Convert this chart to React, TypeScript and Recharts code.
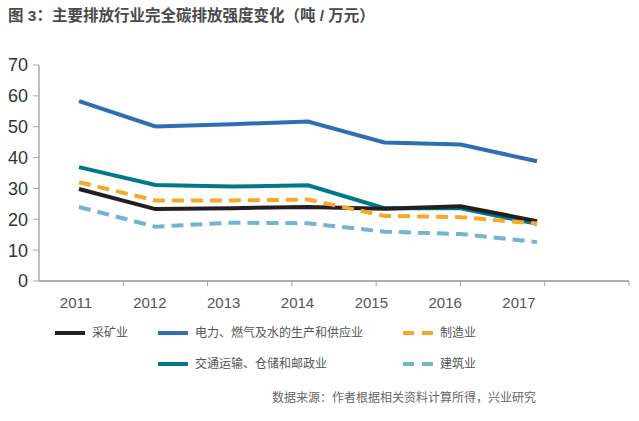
import React from 'react';
import { LineChart, Line, XAxis, YAxis, ReferenceLine } from 'recharts';

const YEARS = ['2011', '2012', '2013', '2014', '2015', '2016', '2017'];
const MINING = [29.8, 23.3, 23.6, 24.0, 23.4, 24.2, 19.4];
const POWER = [58.3, 50.1, 50.8, 51.7, 44.9, 44.2, 38.8];
const MANUFACTURING = [32.0, 26.1, 26.1, 26.4, 21.1, 20.7, 18.6];
const TRANSPORT = [36.9, 31.1, 30.6, 31.0, 23.6, 23.6, 18.5];
const CONSTRUCTION = [24.0, 17.6, 18.9, 18.7, 16.0, 15.2, 12.6];
const Y_TICKS = [0, 10, 20, 30, 40, 50, 60, 70];

const TITLE = '图 3：主要排放行业完全碳排放强度变化（吨 / 万元）';
const SOURCE = '数据来源：作者根据相关资料计算所得，兴业研究';

const SERIES = [
  { key: 'construction', name: '建筑业', values: CONSTRUCTION, color: '#74b4d0', dashed: true },
  { key: 'transport', name: '交通运输、仓储和邮政业', values: TRANSPORT, color: '#00788a', dashed: false },
  { key: 'mining', name: '采矿业', values: MINING, color: '#231f20', dashed: false },
  { key: 'manufacturing', name: '制造业', values: MANUFACTURING, color: '#f6a72c', dashed: true },
  { key: 'power', name: '电力、燃气及水的生产和供应业', values: POWER, color: '#2f6db5', dashed: false },
];

const LEGEND_LAYOUT: Record<string, { x: number; y: number }> = {
  mining: { x: 55, y: 333 },
  power: { x: 158, y: 333 },
  manufacturing: { x: 403, y: 333 },
  transport: { x: 158, y: 364 },
  construction: { x: 403, y: 364 },
};

const data = YEARS.map((year, i) => {
  const row: Record<string, number | string> = { i, year };
  SERIES.forEach((s) => {
    row[s.key] = s.values[i];
  });
  return row;
});

const FONT = '"Liberation Sans", "Noto Sans CJK SC", Arial, sans-serif';

export default function App() {
  return (
    <div style={{ position: 'absolute', left: 0, top: 0, width: 639, height: 421, background: '#fff', fontFamily: FONT }}>
      <div
        style={{
          position: 'absolute',
          left: 8,
          top: 8,
          fontSize: 15.5,
          lineHeight: '16px',
          fontWeight: 'bold',
          color: '#4a4a4a',
          whiteSpace: 'nowrap',
        }}
      >
        {TITLE}
      </div>
      <LineChart width={639} height={421} data={data} margin={{ top: 65, right: 10, bottom: 138, left: 0 }}>
        <XAxis
          xAxisId="a_band"
          dataKey="i"
          type="number"
          domain={[0, 7]}
          ticks={[1, 2, 3, 4, 5, 6, 7]}
          tick={() => <g />}
          interval={0}
          height={1}
          tickSize={5}
          axisLine={{ stroke: '#a8a8a8', strokeWidth: 1.5 }}
          tickLine={{ stroke: '#a0a0a0' }}
        />
        <XAxis
          xAxisId="b_labels"
          dataKey="i"
          type="number"
          domain={[-0.501, 7.49]}
          ticks={[0, 1, 2, 3, 4, 5, 6]}
          tickFormatter={(v: number) => YEARS[v]}
          height={1}
          axisLine={false}
          tickLine={false}
          tickSize={6}
          tickMargin={9}
          tick={{ fontSize: 15, fill: '#555555', fontFamily: FONT }}
          interval={0}
        />
        <XAxis xAxisId="z_data" dataKey="i" type="number" domain={[-0.524, 7.205]} hide />
        <YAxis
          width={39}
          domain={[0, 70]}
          ticks={Y_TICKS}
          interval={0}
          tickSize={6}
          tickMargin={5}
          axisLine={{ stroke: '#aaaaaa', strokeWidth: 1.5 }}
          tickLine={{ stroke: '#aaaaaa' }}
          tick={{ fontSize: 18, fill: '#333333', fontFamily: FONT }}
        />
        <ReferenceLine xAxisId="z_data" y={0} stroke="#a8a8a8" strokeWidth={1.5} />
        {SERIES.map((s) => (
          <Line
            key={s.key}
            xAxisId="z_data"
            dataKey={s.key}
            name={s.name}
            type="linear"
            stroke={s.color}
            strokeWidth={4}
            strokeDasharray={s.dashed ? '12 7' : undefined}
            dot={false}
            activeDot={false}
            isAnimationActive={false}
          />
        ))}
      </LineChart>
      {SERIES.map((s) => {
        const pos = LEGEND_LAYOUT[s.key];
        return (
          <div key={s.key} style={{ position: 'absolute', left: pos.x, top: pos.y - 8, height: 16, display: 'flex', alignItems: 'center', whiteSpace: 'nowrap' }}>
            <svg width={30} height={8} style={{ display: 'block' }}>
              <line
                x1={0}
                y1={4}
                x2={30}
                y2={4}
                stroke={s.color}
                strokeWidth={4}
                strokeDasharray={s.dashed ? '11 8' : undefined}
              />
            </svg>
            <span style={{ marginLeft: 7, fontSize: 12, lineHeight: '16px', color: '#555555' }}>{s.name}</span>
          </div>
        );
      })}
      <div
        style={{
          position: 'absolute',
          right: 103,
          top: 390,
          fontSize: 12,
          lineHeight: '16px',
          color: '#666666',
          whiteSpace: 'nowrap',
        }}
      >
        {SOURCE}
      </div>
    </div>
  );
}
